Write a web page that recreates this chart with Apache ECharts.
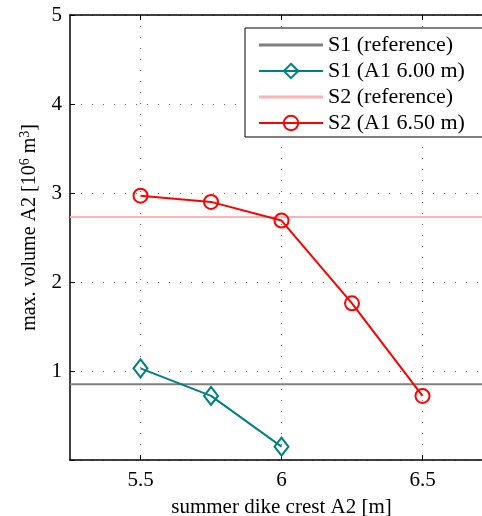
<!DOCTYPE html>
<html>
<head>
<meta charset="utf-8">
<script src="https://cdn.jsdelivr.net/npm/echarts@6/dist/echarts.min.js"></script>
<style>html,body{margin:0;padding:0;background:#fff;overflow:hidden;}#c{width:482px;height:516px;}</style>
</head>
<body>
<div id="c"></div>
<script>
var crestX = [5.5, 5.75, 6, 6.25, 6.5];
var s1Values = [1.03, 0.72, 0.15];
var s2Values = [2.97, 2.90, 2.69, 1.76, 0.72];
var refX = [5.25, 6.75];
var s1Ref = [0.85, 0.85];
var s2Ref = [2.73, 2.73];
var xTicks = [5.5, 6, 6.5];
var yTicks = [1, 2, 3, 4, 5];
var names = ['S1 (reference)', 'S1 (A1 6.00 m)', 'S2 (reference)', 'S2 (A1 6.50 m)'];

function pairs(xs, ys) { return ys.map(function (y, i) { return [xs[i], y]; }); }

var font = 'Liberation Serif';
var fs = 21;
var flatIcon = 'path://M0,0 L20,0 L20,1 L0,1 Z';
var chart = echarts.init(document.getElementById('c'), null, { renderer: 'canvas' });
chart.setOption({
  animation: false,
  backgroundColor: '#fff',
  textStyle: { fontFamily: font, color: '#000' },
  grid: { left: 70, top: 15, width: 423, bottom: 56, containLabel: false, outerBoundsMode: 'none' },
  legend: {
    orient: 'vertical', left: 245, top: 28,
    data: [
      { name: names[0], icon: flatIcon },
      { name: names[1] },
      { name: names[2], icon: flatIcon },
      { name: names[3] }
    ],
    itemWidth: 64, itemHeight: 18, itemGap: 4,
    padding: [6, 22, 3, 13],
    borderColor: '#000', borderWidth: 1, backgroundColor: '#fff',
    textStyle: { fontFamily: font, fontSize: 22, color: '#000' }
  },
  xAxis: [{
    type: 'value', min: 5.25, max: 6.75,
    name: 'summer dike crest A2 [m]', nameLocation: 'middle', nameGap: 37,
    nameTextStyle: { fontFamily: font, fontSize: fs, color: '#000' },
    axisLine: { show: true, onZero: false, lineStyle: { color: '#000', width: 1.5 } },
    axisTick: { show: true, inside: true, length: 5, customValues: xTicks, lineStyle: { color: '#000' } },
    axisLabel: { customValues: xTicks, fontFamily: font, fontSize: fs, color: '#000', margin: 10 },
    splitLine: { show: true, lineStyle: { color: '#666', type: [1, 10], width: 1 } }
  }, {
    type: 'value', min: 5.25, max: 6.75, position: 'top',
    axisLine: { show: true, onZero: false, lineStyle: { color: '#000', width: 1.5 } },
    axisTick: { show: true, inside: true, length: 5, customValues: xTicks, lineStyle: { color: '#000' } },
    axisLabel: { show: false },
    splitLine: { show: false }
  }],
  yAxis: {
    type: 'value', min: 0, max: 5, interval: 1,
    name: '{n|max. volume A2 [10}{s|6}{n| m}{s|3}{n|]}', nameLocation: 'middle', nameGap: 28,
    nameTextStyle: {
      fontFamily: font, fontSize: 20, color: '#000', padding: [0, 0, 0, 20],
      rich: {
        n: { fontFamily: font, fontSize: 20, color: '#000' },
        s: { fontFamily: font, fontSize: 14, color: '#000', verticalAlign: 'top', padding: [0, 0, 10, 0] }
      }
    },
    axisLine: { show: true, onZero: false, lineStyle: { color: '#000', width: 1.5 } },
    axisTick: { show: true, inside: true, length: 5, lineStyle: { color: '#000' } },
    axisLabel: {
      fontFamily: font, fontSize: fs, color: '#000', margin: 8,
      formatter: function (v) { return yTicks.indexOf(v) >= 0 ? String(v) : ''; }
    },
    splitLine: { show: true, lineStyle: { color: '#666', type: [1, 10], width: 1 } }
  },
  series: [{
    name: names[0], type: 'line', data: pairs(refX, s1Ref), symbol: 'none',
    lineStyle: { color: '#808080', width: 2 }, itemStyle: { color: '#808080' }
  }, {
    name: names[1], type: 'line', data: pairs(crestX, s1Values),
    symbol: 'diamond', symbolSize: [14, 18], showAllSymbol: true,
    lineStyle: { color: '#008080', width: 2 },
    itemStyle: { color: 'rgba(0,0,0,0)', borderColor: '#008080', borderWidth: 2 }
  }, {
    name: names[2], type: 'line', data: pairs(refX, s2Ref), symbol: 'none',
    lineStyle: { color: '#ffb3b3', width: 2 }, itemStyle: { color: '#ffb3b3' }
  }, {
    name: names[3], type: 'line', data: pairs(crestX, s2Values),
    symbol: 'circle', symbolSize: 14, showAllSymbol: true,
    lineStyle: { color: '#ff0000', width: 2 },
    itemStyle: { color: 'rgba(0,0,0,0)', borderColor: '#ff0000', borderWidth: 2 }
  }]
});
</script>
</body>
</html>
